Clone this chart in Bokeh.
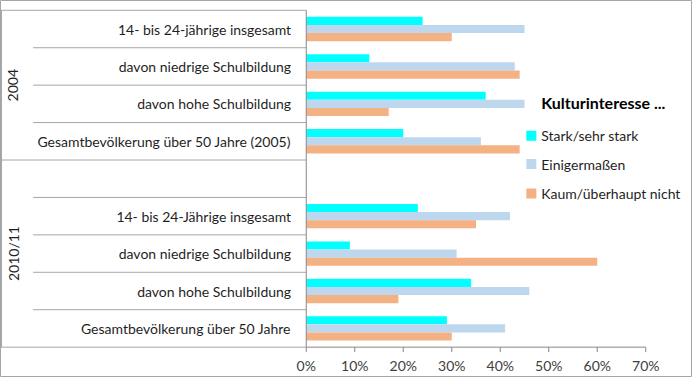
from math import pi
from bokeh.plotting import figure
from bokeh.models import Range1d
from bokeh.core.properties import value
from bokeh.embed import file_html
from bokeh.resources import INLINE

# ---------------- data ----------------
groups = ["2004", "2010/11"]
group_slots = [(0, 4), (4, 9)]          # slot ranges covered by each group
categories = [
    "14- bis 24-jährige insgesamt",
    "davon niedrige Schulbildung",
    "davon hohe Schulbildung",
    "Gesamtbevölkerung über 50 Jahre (2005)",
    "",
    "14- bis 24-Jährige insgesamt",
    "davon niedrige Schulbildung",
    "davon hohe Schulbildung",
    "Gesamtbevölkerung über 50 Jahre",
]
series_names = ["Stark/sehr stark", "Einigermaßen", "Kaum/überhaupt nicht"]
stark = [24, 13, 37, 20, None, 23, 9, 34, 29]
einigermassen = [45, 43, 45, 36, None, 42, 31, 46, 41]
kaum = [30, 44, 17, 44, None, 35, 60, 19, 30]
series_values = [stark, einigermassen, kaum]
colors = ["#00FFFF", "#BDD7EE", "#F4B183"]
ticks = [0, 10, 20, 30, 40, 50, 60, 70]
tick_labels = ["0%", "10%", "20%", "30%", "40%", "50%", "60%", "70%"]
legend_title = "Kulturinteresse ..."

# ---------------- layout ----------------
W, H = 692, 377
SX, SY = W / 700.0, H / 385.0
X0 = 309.3 * SX                      # pixel of 0%
PX = (652.7 - 309.3) * SX / 70       # pixels per percent
TOP = 10 * SY
BOTTOM = 354 * SY
N = len(categories)
SLOT = (BOTTOM - TOP) / N
BAR_H = 8.3 * SY
FONT = value("Lato")
TXT = "#1f1f1f"
GRID = "#a6a6a6"


def xd(px_ref):
    return (px_ref * SX - X0) / PX


def yd(py_ref):
    return py_ref * SY


p = figure(width=W, height=H, output_backend="svg", toolbar_location=None,
           x_range=Range1d(xd(0), xd(700)), y_range=Range1d(H, 0),
           min_border=0)
p.axis.visible = False
p.grid.visible = False
p.outline_line_color = GRID
p.outline_line_width = 1
p.background_fill_color = "white"
p.border_fill_color = "white"

# bars
offsets = [-BAR_H, 0, BAR_H]
for vals, col, off in zip(series_values, colors, offsets):
    ys = [TOP + (i + 0.5) * SLOT + off for i, v in enumerate(vals) if v is not None]
    rs = [v for v in vals if v is not None]
    p.hbar(y=ys, left=0, right=rs, height=BAR_H, fill_color=col, line_color=None)

# table lines
x0s, y0s, x1s, y1s = [], [], [], []
for k in range(N + 1):
    y = TOP + k * SLOT
    full = k in (0, 4, N)
    x0s.append(xd(0) if full else xd(33))
    x1s.append(0)
    y0s.append(y)
    y1s.append(y)
x0s.append(xd(1)); x1s.append(xd(1)); y0s.append(TOP); y1s.append(BOTTOM)
p.segment(x0=x0s, y0=y0s, x1=x1s, y1=y1s, line_color=GRID, line_width=1)

# axes
AX = "#868686"
p.segment(x0=[0], y0=[TOP], x1=[0], y1=[BOTTOM], line_color=AX, line_width=1)
p.segment(x0=[0], y0=[BOTTOM], x1=[70], y1=[BOTTOM], line_color=AX, line_width=1)
p.segment(x0=ticks, y0=[BOTTOM] * len(ticks), x1=ticks, y1=[BOTTOM + 5] * len(ticks),
          line_color=AX, line_width=1)
p.text(x=ticks, y=[yd(373)] * len(ticks), text=tick_labels, text_align="center",
       text_baseline="middle", text_font=FONT, text_font_size="14px", text_color="#404040")

# category labels
cy = [TOP + (i + 0.5) * SLOT for i, c in enumerate(categories) if c]
ct = [c for c in categories if c]
p.text(x=[xd(294)] * len(ct), y=cy, text=ct, text_align="right", text_baseline="middle",
       text_font=FONT, text_font_size="14px", text_color=TXT)

# group labels (rotated)
gy = [TOP + (a + b) / 2 * SLOT for a, b in group_slots]
p.text(x=[xd(13)] * len(groups), y=gy, text=groups, angle=pi / 2, text_align="center",
       text_baseline="middle", text_font=FONT, text_font_size="14px", text_color=TXT)

# legend
p.text(x=[xd(547)], y=[yd(104)], text=[legend_title], text_align="left", text_baseline="middle",
       text_font=FONT, text_font_size="16px", text_font_style="bold", text_color="#000000")
ly = [yd(138), yd(167), yd(197)]
p.scatter(x=[xd(537)] * 3, y=ly, marker="square", size=10, fill_color=colors, line_color=None)
p.text(x=[xd(547)] * 3, y=ly, text=series_names, text_align="left", text_baseline="middle",
       text_font=FONT, text_font_size="14px", text_color=TXT)

open("out.html", "w").write(file_html(p, INLINE))
